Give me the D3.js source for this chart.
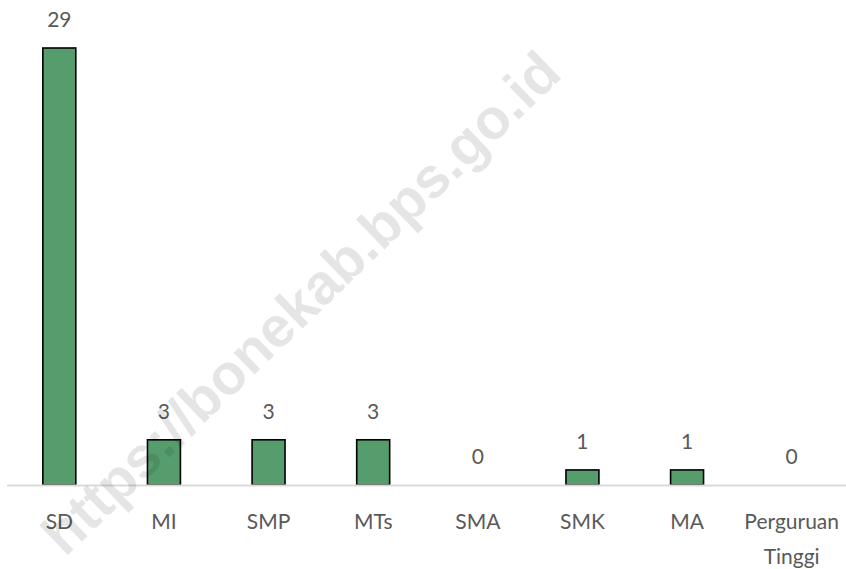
<!DOCTYPE html>
<html>
<head>
<meta charset="utf-8">
<script src="https://d3js.org/d3.v7.min.js"></script>
<style>
  body { margin: 0; background: #fff; }
  svg text { font-family: Lato, "Open Sans", sans-serif; }
</style>
</head>
<body>
<script>
// data
var categories = ["SD", "MI", "SMP", "MTs", "SMA", "SMK", "MA", "Perguruan Tinggi"];
var values = [29, 3, 3, 3, 0, 1, 1, 0];
var labelLines = [["SD"], ["MI"], ["SMP"], ["MTs"], ["SMA"], ["SMK"], ["MA"], ["Perguruan", "Tinggi"]];

var width = 846, height = 569;
var svg = d3.select("body").append("svg").attr("width", width).attr("height", height);

var x = d3.scaleBand().domain(categories).range([7, 844]).paddingInner(0.685).paddingOuter(0.3425);
var y = d3.scaleLinear().domain([0, 29]).range([485, 48]);

// bars
svg.selectAll("rect.bar").data(values).enter().append("rect")
  .attr("class", "bar")
  .attr("x", function(d, i){ return x(categories[i]); })
  .attr("width", x.bandwidth())
  .attr("y", function(d){ return y(d); })
  .attr("height", function(d){ return y(0) - y(d); })
  .attr("fill", "#569d6e")
  .attr("stroke", "#000")
  .attr("stroke-width", 1.6)
  .attr("display", function(d){ return d > 0 ? null : "none"; });

// x axis
var axis = svg.append("g").attr("transform", "translate(0," + y(0) + ")")
  .call(d3.axisBottom(x).tickSize(0).tickSizeOuter(0));
axis.select(".domain").attr("stroke", "#d9d9d9").attr("stroke-width", 2).attr("d", "M7,0.5H846");
axis.selectAll(".tick text").remove();
axis.selectAll(".tick").each(function(c, i){
  var t = d3.select(this).append("text")
    .attr("fill", "#595959")
    .attr("font-size", 21)
    .attr("text-anchor", "middle")
    .attr("y", 44);
  labelLines[i].forEach(function(line, j){
    t.append("tspan").attr("x", 0).attr("dy", j === 0 ? 0 : 35).text(line);
  });
});

// value labels
svg.selectAll("text.val").data(values).enter().append("text")
  .attr("class", "val")
  .attr("x", function(d, i){ return x(categories[i]) + x.bandwidth() / 2; })
  .attr("y", function(d){ return y(d) - 21; })
  .attr("text-anchor", "middle")
  .attr("fill", "#595959")
  .attr("font-size", 21)
  .text(function(d){ return d; });

// watermark on top, light enough to see bars through it
svg.append("text")
  .attr("transform", "translate(304,306) rotate(-44)")
  .attr("text-anchor", "middle")
  .attr("dominant-baseline", "middle")
  .style("font-family", "'Liberation Sans', Arial, sans-serif")
  .attr("font-weight", "bold")
  .attr("font-size", 57)
  .attr("fill", "#000")
  .attr("fill-opacity", 0.1)
  .text("https://bonekab.bps.go.id");
</script>
</body>
</html>
